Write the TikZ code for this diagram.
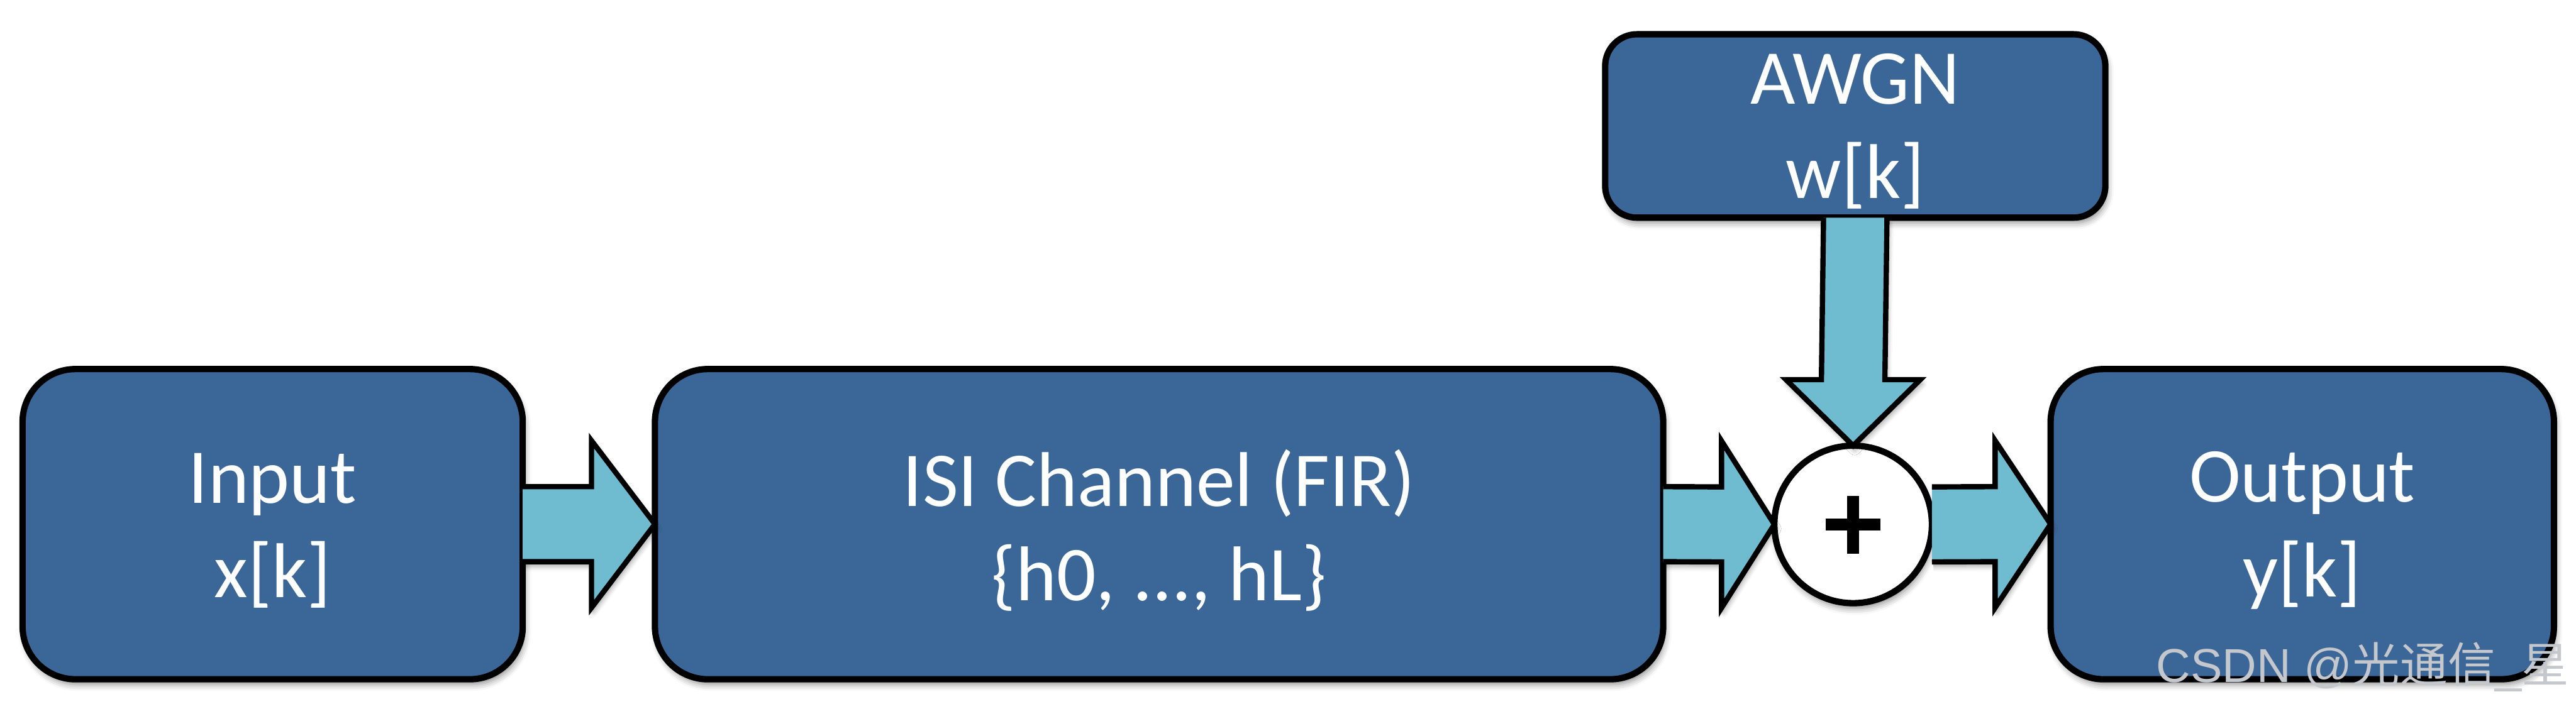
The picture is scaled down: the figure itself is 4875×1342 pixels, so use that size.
\documentclass[tikz,border=0pt]{standalone}
\usepackage{fontspec}
\setmainfont{Carlito}
\newfontfamily\wmlatin{Liberation Sans}
\newfontfamily\wmcjk{Noto Sans CJK SC}
\usetikzlibrary{calc,shadows.blur}
\definecolor{boxblue}{RGB}{59,103,152}
\definecolor{arrowcyan}{RGB}{111,187,208}
\definecolor{wmgray}{RGB}{196,199,204}
\tikzset{
  blockbox/.style={draw=black, fill=boxblue, line width=0.12cm, rounded corners=1cm,
    outer sep=0pt, inner sep=0pt,
    blur shadow={shadow xshift=0.04cm, shadow yshift=-0.1cm, shadow blur radius=0.12cm, shadow opacity=45}},
  boxtext/.style={text=white, align=center, inner sep=0pt,
    font=\fontsize{41.8}{50.9}\selectfont},
  blockarrow/.style={draw=black, fill=arrowcyan, line width=0.1cm, line join=miter,
    blur shadow={shadow xshift=0.03cm, shadow yshift=-0.08cm, shadow blur radius=0.1cm, shadow opacity=40}},
  sumnode/.style={circle, draw=black, fill=white, line width=0.12cm, minimum size=2.98cm,
    inner sep=0pt, outer sep=0pt,
    blur shadow={shadow xshift=0.03cm, shadow yshift=-0.1cm, shadow blur radius=0.12cm, shadow opacity=45}},
  plusbar/.style={line width=0.23cm, line cap=butt, draw=black}
}
\begin{document}
\begin{tikzpicture}[x=0.01cm, y=-0.01cm]
\useasboundingbox (0,0) rectangle (4875,1342);
% boxes
\node[blockbox, minimum width=9.46cm, minimum height=5.87cm] (in) at (516,992.5) {};
\node[blockbox, minimum width=19.07cm, minimum height=5.87cm] (isi) at (2193.5,992.5) {};
\node[blockbox, minimum width=9.52cm, minimum height=5.87cm] (out) at (4357,992.5) {};
\node[blockbox, rounded corners=0.6cm, minimum width=9.46cm, minimum height=3.47cm] (awgn) at (3511,238.5) {};
\node[boxtext] (intext) at ([yshift=-0.12cm]in.center) {Input\\x[k]};
\node[boxtext] (isitext) at ([yshift=-0.12cm]isi.center) {ISI Channel (FIR)\\\{h0, ..., hL\}};
\node[boxtext] (outtext) at ([yshift=-0.12cm]out.center) {Output\\y[k]};
\node[boxtext] (awgntext) at ([yshift=-0.1cm]awgn.center) {AWGN\\w[k]};
\node[sumnode] (sum) at (3507,993) {};
\draw[plusbar] ($(sum.center)+(-0.52cm,0)$) -- ($(sum.center)+(0.51cm,0)$);
\draw[plusbar] ($(sum.center)+(0,0.54cm)$) -- ($(sum.center)+(0,-0.55cm)$);
% arrows
\filldraw[blockarrow] ($(in.east)+(0,0.71cm)$) -- ($(isi.west)+(-1.2cm,0.71cm)$) -- ($(isi.west)+(-1.2cm,1.58cm)$)
  -- (isi.west) -- ($(isi.west)+(-1.2cm,-1.58cm)$) -- ($(isi.west)+(-1.2cm,-0.71cm)$) -- ($(in.east)+(0,-0.71cm)$);
\filldraw[blockarrow] ($(isi.east)+(0,0.71cm)$) -- ($(sum.west)+(-1.0cm,0.71cm)$) -- ($(sum.west)+(-1.0cm,1.58cm)$)
  -- (sum.west) -- ($(sum.west)+(-1.0cm,-1.58cm)$) -- ($(sum.west)+(-1.0cm,-0.71cm)$) -- ($(isi.east)+(0,-0.71cm)$);
\filldraw[blockarrow] ($(sum.east)+(0,0.71cm)$) -- ($(out.west)+(-1.05cm,0.71cm)$) -- ($(out.west)+(-1.05cm,1.58cm)$)
  -- (out.west) -- ($(out.west)+(-1.05cm,-1.58cm)$) -- ($(out.west)+(-1.05cm,-0.71cm)$) -- ($(sum.east)+(0,-0.71cm)$);
\filldraw[blockarrow] ($(awgn.south)+(-0.6cm,0)$) -- ($(sum.north)+(-0.6cm,1.25cm)$) -- ($(sum.north)+(-1.27cm,1.25cm)$)
  -- (sum.north) -- ($(sum.north)+(1.27cm,1.25cm)$) -- ($(sum.north)+(0.6cm,1.25cm)$) -- ($(awgn.south)+(0.6cm,0)$);
% watermark
\node[anchor=base west, inner sep=0pt, text=wmgray, font=\fontsize{25.6}{30}\selectfont] (wm) at (4080,1292)
  {\wmlatin CSDN @\wmcjk 光通信\wmlatin\_\wmcjk 星};
\end{tikzpicture}
\end{document}
